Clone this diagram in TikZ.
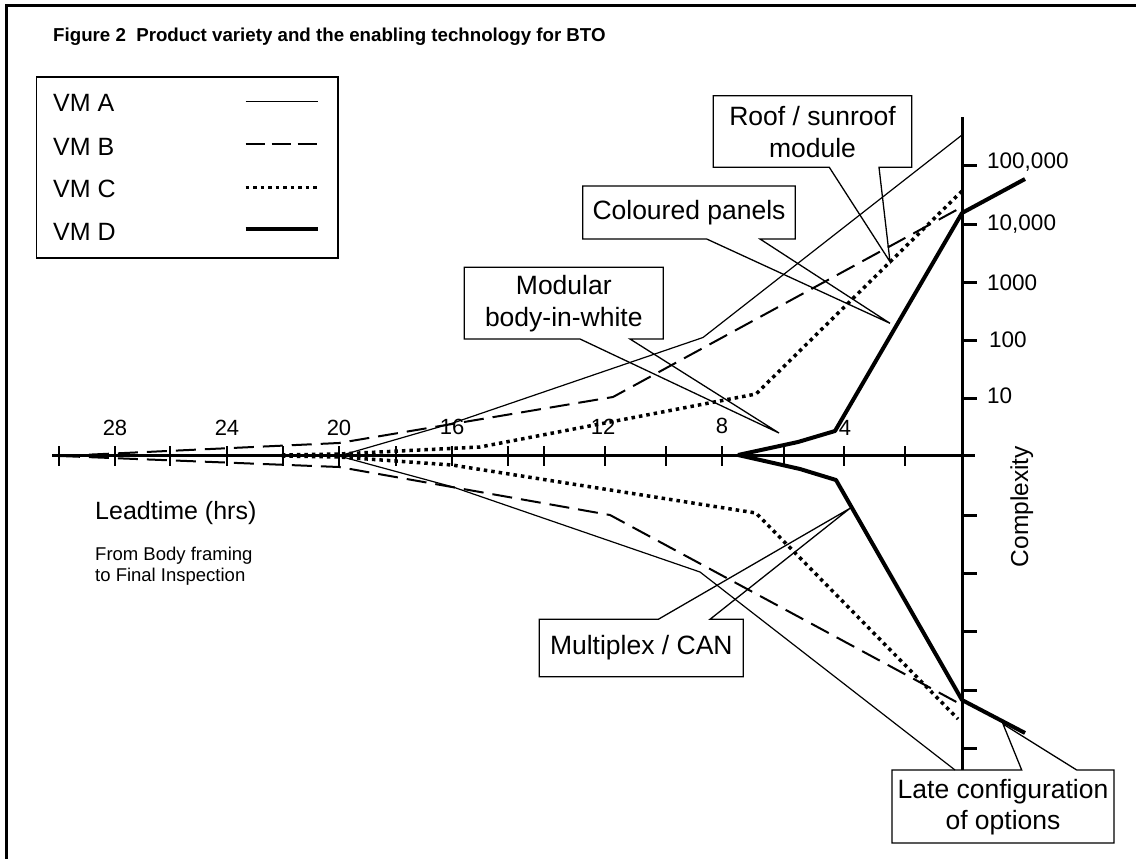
\documentclass[tikz,border=0pt]{standalone}
\usepackage{fontspec}
\setmainfont{Liberation Sans}
\begin{document}
\begin{tikzpicture}[x=1pt,y=-1pt,
  vma/.style={line width=1.2pt, line join=round},
  vmb/.style={line width=2pt, dash pattern=on 20pt off 9pt, line join=round},
  vmc/.style={line width=3.5pt, dash pattern=on 3.5pt off 4pt, line join=round},
  vmd/.style={line width=4pt, line join=round},
  axisline/.style={line width=3.2pt},
  htick/.style={line width=2pt},
  vtick/.style={line width=3pt},
  callout/.style={line width=1.3pt, line join=miter},
  legtext/.style={inner sep=0pt, anchor=base west, font=\fontsize{25}{29}\selectfont},
  ticklbl/.style={inner sep=0pt, font=\fontsize{22}{26}\selectfont},
  vlbl/.style={inner sep=0pt, anchor=west, font=\fontsize{22.5}{26}\selectfont},
  calltext/.style={inner sep=0pt, align=center, font=\fontsize{26.5}{31.6}\selectfont},
]
\useasboundingbox (0,0) rectangle (1136,859);
% frame
\draw[line width=3pt] (6,859) -- (6,6) -- (1136,6);
% title
\node[inner sep=0pt, anchor=base west, font=\fontsize{18.7}{22}\selectfont\bfseries] (title) at (53,41.5) {Figure 2\ \ Product variety and the enabling technology for BTO};
% legend
\draw[line width=1.5pt] (36.7,77) rectangle (338,258);
\node[legtext] (la) at (53,111.5) {VM A};
\node[legtext] (lb) at (53,155) {VM B};
\node[legtext] (lc) at (53,197) {VM C};
\node[legtext] (ld) at (53,240.5) {VM D};
\draw[vma] (245.7,101.7) -- (317.7,101.7);
\draw[line width=2.2pt, dash pattern=on 19pt off 7pt] (245.7,144.3) -- (317.7,144.3);
\draw[vmc] (245.7,187.3) -- (317.7,187.3);
\draw[vmd] (245.7,228.7) -- (317.7,228.7);
% axes
\draw[axisline] (52,455.5) -- (975,455.5);
\draw[axisline] (962.5,117) -- (962.5,770);
\foreach \x in {59,115,170,227,283,339,396,452,508,544,605,666,722,784,844,905}
  \draw[htick] (\x,446) -- (\x,466);
\foreach \y in {165,224,282,340,398,515,573,631,690,748}
  \draw[vtick] (962,\y) -- (977,\y);
% axis labels
\node[ticklbl] (h28) at (115,428) {28};
\node[ticklbl] (h24) at (227,428) {24};
\node[ticklbl] (h20) at (339,428) {20};
\node[ticklbl] (h16) at (452,427) {16};
\node[ticklbl] (h12) at (603,427) {12};
\node[ticklbl] (h8) at (722,426) {8};
\node[ticklbl] (h4) at (845,428) {4};
\node[vlbl] (v5) at (987,162) {100,000};
\node[vlbl] (v4) at (987,224) {10,000};
\node[vlbl] (v3) at (987,283) {1000};
\node[vlbl] (v2) at (989,340) {100};
\node[vlbl] (v1) at (987,396) {10};
\node[inner sep=0pt, rotate=90, font=\fontsize{24.5}{28}\selectfont] (cx) at (1021.7,506.7) {Complexity};
\node[inner sep=0pt, anchor=west, font=\fontsize{25}{29}\selectfont] (lt) at (95,513) {Leadtime (hrs)};
\node[inner sep=0pt, anchor=north west, align=left, font=\fontsize{18.5}{21}\selectfont] (fb) at (95,547) {From Body framing\\to Final Inspection};
% curves
\draw[vma] (339,456) -- (453,423) -- (703,337.5) -- (962,135);
\draw[vma] (339,456) -- (453,487) -- (700,572) -- (955,770);
\draw[vmb] (60,456) -- (339,443) -- (613,397) -- (962,207);
\draw[vmb] (60,456) -- (339,467) -- (610,515) -- (962,705);
\draw[vmc] (282,455) -- (339,454) -- (480,447) -- (756,394) -- (962,191);
\draw[vmc] (282,456) -- (339,457) -- (452,465) -- (756,513) -- (958,719);
\draw[vmd] (738,455) -- (798,442) -- (835,431) -- (962,213) -- (1025,179);
\draw[vmd] (738,455) -- (800,469) -- (836,480) -- (962,700) -- (1025,733);
% callouts
\coordinate (tRoof) at (890,261.7);
\coordinate (tCol) at (890,323.3);
\coordinate (tMod) at (779,433);
\coordinate (tMux) at (850,508.3);
\coordinate (tLate) at (1003,724);
\draw[callout] (713.3,95.7) -- (911.7,95.7) -- (911.7,167.3) -- (879,167.3) -- (tRoof) -- (829.3,167.3) -- (713.3,167.3) -- cycle;
\node[calltext] (roof) at (812.5,132) {Roof / sunroof\\module};
\draw[callout] (582.7,186) -- (795.3,186) -- (795.3,239) -- (760,239) -- (tCol) -- (706.7,239) -- (582.7,239) -- cycle;
\node[calltext] (col) at (689,212.5) {Coloured panels};
\draw[callout] (464.3,267.3) -- (663.3,267.3) -- (663.3,339) -- (630,339) -- (tMod) -- (580,339) -- (464.3,339) -- cycle;
\node[calltext] (mod) at (563.8,303.5) {Modular\\body-in-white};
\draw[callout] (539.3,619.3) -- (658.3,619.3) -- (tMux) -- (710,619.3) -- (743.3,619.3) -- (743.3,676.7) -- (539.3,676.7) -- cycle;
\node[calltext] (mux) at (641.3,648) {Multiplex / CAN};
\draw[callout] (892,770) -- (1021.7,770) -- (tLate) -- (1076.7,770) -- (1114,770) -- (1114,843) -- (892,843) -- cycle;
\node[calltext] (late) at (1003,807) {Late configuration\\of options};
\end{tikzpicture}
\end{document}
